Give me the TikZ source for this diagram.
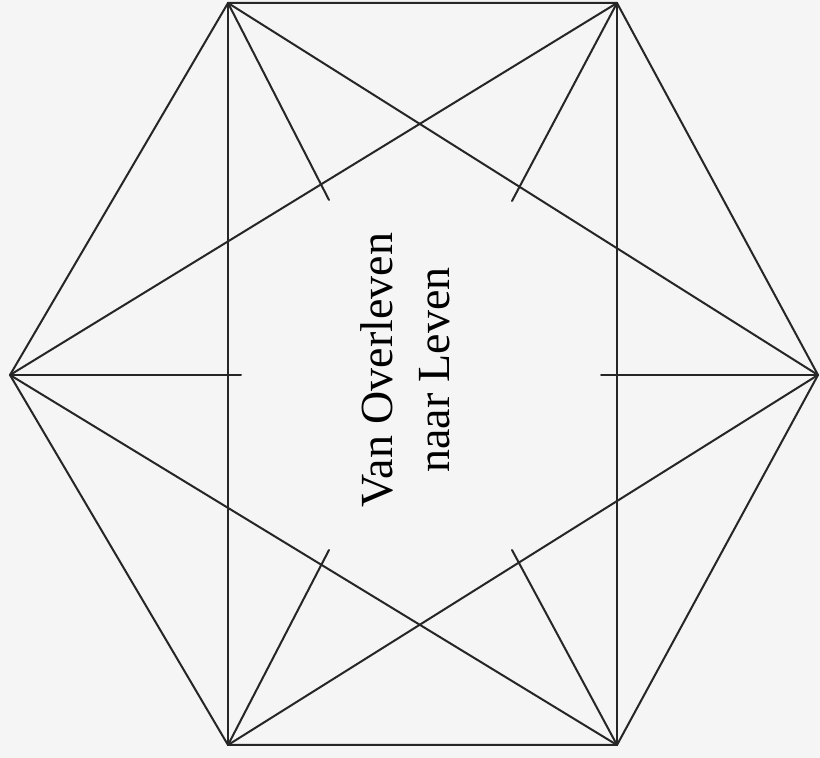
\documentclass[tikz,border=0pt]{standalone}
\usepackage{fontspec}
\setmainfont{Liberation Serif}
\usetikzlibrary{positioning,calc}

\begin{document}
\begin{tikzpicture}[
x=0.5pt, y=-0.5pt,
line/.style={draw=black!85, line width=1pt, line join=round, line cap=round},
title/.style={rotate=90, align=center, font=\fontsize{23}{28.5}\selectfont}
]
\fill[black!4] (0,0) rectangle (820,758);
\useasboundingbox (0,0) rectangle (820,758);

% hexagon corners
\coordinate (l) at (10,375);
\coordinate (tl) at (228,3);
\coordinate (tr) at (617,3);
\coordinate (r) at (818,375);
\coordinate (br) at (617,745);
\coordinate (bl) at (228,745);

% inner ends of the short spokes
\coordinate (tlin) at (329,200);
\coordinate (trin) at (512,201);
\coordinate (lin) at (241,375);
\coordinate (rin) at (601,375);
\coordinate (blin) at (329,550);
\coordinate (brin) at (512,550);

\node[title] (name) at (405,370) {Van Overleven\\naar Leven};

\draw[line] (l) -- (tl) -- (tr) -- (r) -- (br) -- (bl) -- cycle;
\draw[line] (tl) -- (bl);
\draw[line] (tr) -- (br);
\draw[line] (l) -- (tr);
\draw[line] (l) -- (br);
\draw[line] (r) -- (tl);
\draw[line] (r) -- (bl);
\draw[line] (tl) -- (tlin);
\draw[line] (tr) -- (trin);
\draw[line] (l) -- (lin);
\draw[line] (r) -- (rin);
\draw[line] (bl) -- (blin);
\draw[line] (br) -- (brin);
\end{tikzpicture}
\end{document}
